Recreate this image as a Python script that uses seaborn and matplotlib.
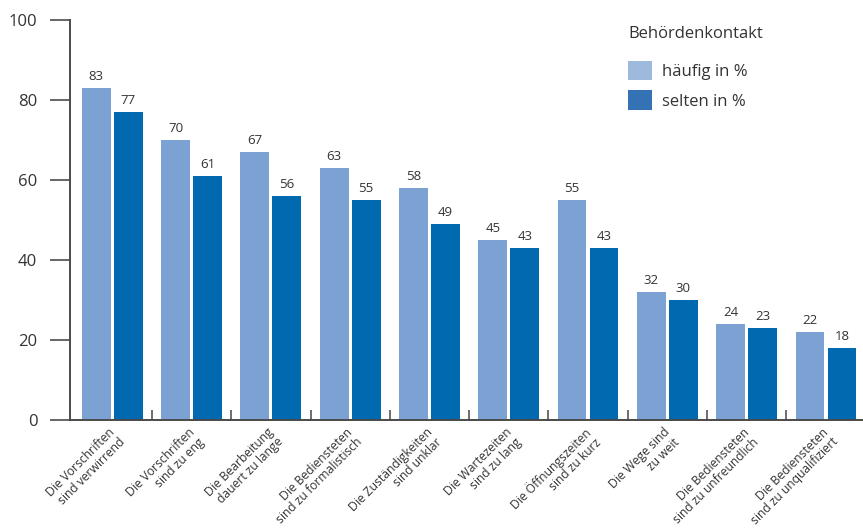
import matplotlib
matplotlib.use("Agg")
import matplotlib.pyplot as plt
from matplotlib.patches import Patch
from matplotlib.ticker import FixedLocator
import seaborn as sns
import pandas as pd

categories = [
    "Die Vorschriften\nsind verwirrend",
    "Die Vorschriften\nsind zu eng",
    "Die Bearbeitung\ndauert zu lange",
    "Die Bediensteten\nsind zu formalistisch",
    "Die Zuständigkeiten\nsind unklar",
    "Die Wartezeiten\nsind zu lang",
    "Die Öffnungszeiten\nsind zu kurz",
    "Die Wege sind\nzu weit",
    "Die Bediensteten\nsind zu unfreundlich",
    "Die Bediensteten\nsind zu unqualifiziert",
]
haeufig = [83, 70, 67, 63, 58, 45, 55, 32, 24, 22]
selten = [77, 61, 56, 55, 49, 43, 43, 30, 23, 18]
series = ["häufig in %", "selten in %"]
yticks = [0, 20, 40, 60, 80, 100]

bar_colors = ["#7BA2D3", "#0069B0"]
legend_colors = ["#9DB9DB", "#3572B5"]
text_color = "#333333"
axis_color = "#4a4a4a"

df = pd.DataFrame({
    "Kategorie": categories * 2,
    "Kontakt": [series[0]] * len(categories) + [series[1]] * len(categories),
    "Wert": haeufig + selten,
})

sns.set_theme(style="white")
plt.rcParams["font.family"] = ["Open Sans", "DejaVu Sans"]

fig = plt.figure(figsize=(8.63, 5.28), dpi=100)
ax = fig.add_axes([70 / 863, 108 / 528, 793 / 863, 400 / 528])

sns.barplot(data=df, x="Kategorie", y="Wert", hue="Kontakt",
            palette=bar_colors, width=0.807, gap=0.1, saturation=1,
            edgecolor="none", linewidth=0, legend=False, ax=ax)

for container in ax.containers:
    ax.bar_label(container, fmt="%d", padding=3.5, fontsize=9.5, color=text_color)

ax.set_xlim(-0.533, len(categories) - 0.533)
ax.set_ylim(0, 100)
ax.set_yticks(yticks)
ax.set_yticklabels([str(v) for v in yticks], fontsize=12, color=text_color)
ax.tick_params(axis="y", which="major", direction="out", length=14.5,
               width=1.4, color="#666666", pad=9, left=True)

# category separators as small inward ticks on the baseline
ax.set_xticks(range(len(categories)))
ax.set_xticklabels([])
ax.xaxis.set_minor_locator(FixedLocator([i + 0.5 for i in range(len(categories) - 1)]))
ax.tick_params(axis="x", which="major", length=0)
ax.tick_params(axis="x", which="minor", direction="in", length=7,
               width=1.2, color="#555555", bottom=True)

for i, label in enumerate(categories):
    ax.annotate(label, xy=(i, 0), xycoords=("data", "axes fraction"),
                xytext=(4, -11), textcoords="offset points",
                rotation=45, rotation_mode="anchor", ha="right", va="center",
                multialignment="right", fontsize=8.7, color=text_color,
                linespacing=1.05)

ax.set_xlabel("")
ax.set_ylabel("")
for side in ["top", "right"]:
    ax.spines[side].set_visible(False)
for side in ["left", "bottom"]:
    ax.spines[side].set_color(axis_color)
    ax.spines[side].set_linewidth(1.4)
ax.grid(False)

handles = [Patch(facecolor=c, edgecolor="none") for c in legend_colors]
leg = ax.legend(handles, series, title="Behördenkontakt", loc="upper left",
                bbox_to_anchor=(0.685, 1.023), frameon=False, fontsize=12,
                title_fontsize=12, handlelength=1.4, handleheight=1.4,
                handletextpad=0.6, labelspacing=0.6, alignment="left")
for t in leg.get_texts():
    t.set_color(text_color)
leg.get_title().set_color(text_color)
leg._legend_box.sep = 14

fig.savefig("out.png", dpi=100)
